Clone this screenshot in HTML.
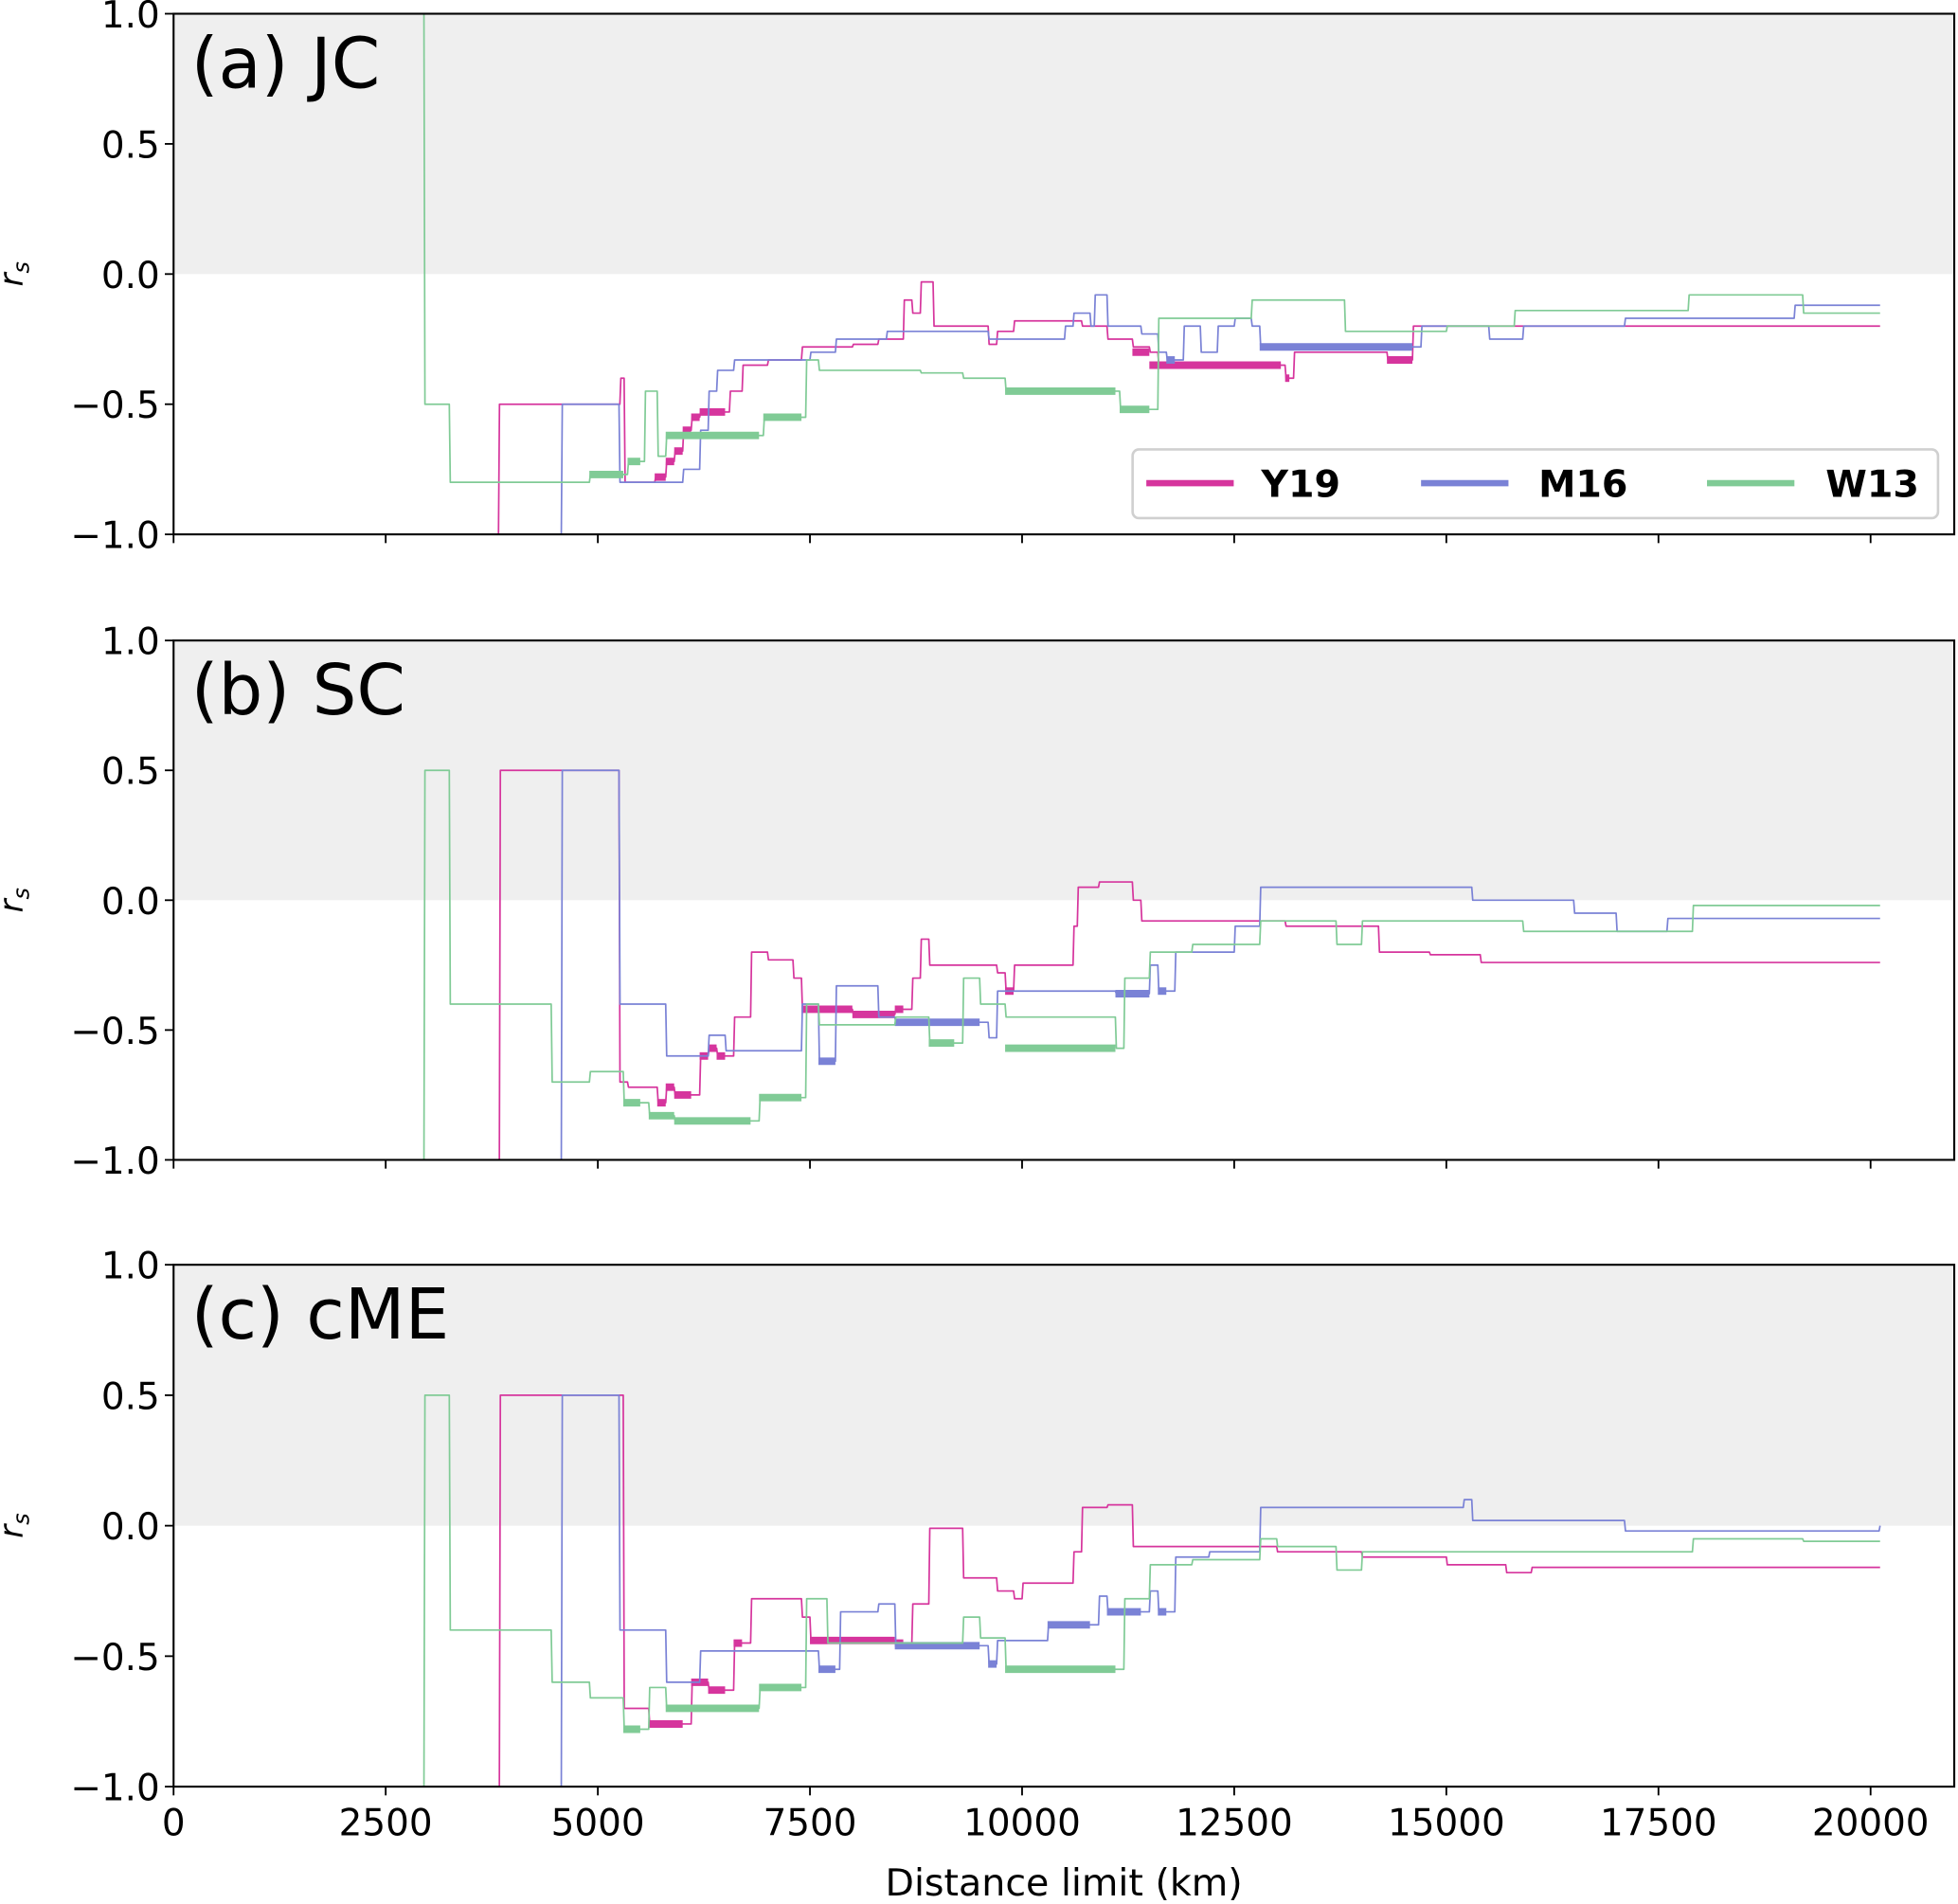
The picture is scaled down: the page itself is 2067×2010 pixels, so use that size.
<!DOCTYPE html>
<html><head><meta charset="utf-8"><style>
html,body{margin:0;padding:0;background:#fff}
svg{display:block}
text{font-family:"DejaVu Sans","Liberation Sans",sans-serif;fill:#000}
</style></head><body>
<svg id="chart" width="2067" height="2010" viewBox="0 0 1568 1525" preserveAspectRatio="none" xmlns="http://www.w3.org/2000/svg"></svg>
<script>
// ---- data (km, r_s) ----
const panelLabels = ["(a) JC","(b) SC","(c) cME"];
const xTicks = [0,2500,5000,7500,10000,12500,15000,17500,20000];
const yTicks = [-1.0,-0.5,0.0,0.5,1.0];
const yTickLabels = ["\u22121.0","\u22120.5","0.0","0.5","1.0"];
const seriesNames = ["Y19","M16","W13"];

const aY19x = [3810,3830,5200,5260,5310,5670,5800,5900,6000,6100,6200,6500,6550,6700,7000,7400,8000,8300,8600,8700,8800,8900,8950,9500,9600,9700,9900,10500,10700,11000,11300,11500,11600,13100,13200,14300,14600,20100];
const aY19y = [-1.0,-0.5,-0.5,-0.4,-0.8,-0.78,-0.72,-0.68,-0.6,-0.55,-0.53,-0.53,-0.45,-0.35,-0.33,-0.28,-0.27,-0.25,-0.1,-0.15,-0.03,-0.03,-0.2,-0.2,-0.27,-0.22,-0.18,-0.18,-0.2,-0.25,-0.28,-0.3,-0.35,-0.4,-0.3,-0.33,-0.2,-0.2];
const aM16x = [4550,4570,5200,5250,5950,6000,6200,6300,6400,6600,7300,7500,7800,8400,9500,9600,10500,10600,10800,10850,11000,11400,11600,11700,11900,12100,12300,12500,12700,12800,14600,14700,15500,15900,17100,19100,20100];
const aM16y = [-1.0,-0.5,-0.5,-0.8,-0.8,-0.75,-0.6,-0.45,-0.37,-0.33,-0.33,-0.3,-0.25,-0.22,-0.22,-0.25,-0.2,-0.15,-0.2,-0.08,-0.2,-0.23,-0.3,-0.33,-0.2,-0.3,-0.2,-0.17,-0.2,-0.28,-0.28,-0.2,-0.25,-0.2,-0.17,-0.12,-0.12];
const aW13x = [2900,2950,3200,3250,4900,5300,5350,5500,5550,5700,5800,6900,6950,7400,7450,7600,8700,8800,9300,9800,11100,11150,11500,11600,12700,13700,13800,15000,15800,17800,17850,18000,19100,19200,20100];
const aW13y = [1.0,-0.5,-0.5,-0.8,-0.77,-0.77,-0.72,-0.72,-0.45,-0.7,-0.62,-0.62,-0.55,-0.55,-0.33,-0.37,-0.37,-0.38,-0.4,-0.45,-0.45,-0.52,-0.52,-0.17,-0.1,-0.1,-0.22,-0.2,-0.14,-0.14,-0.08,-0.08,-0.08,-0.15,-0.15];
const aY19thick = [[5670,5800,-0.78],[5800,5900,-0.72],[5900,6000,-0.68],[6000,6100,-0.6],[6100,6200,-0.55],[6200,6500,-0.53],[11300,11500,-0.3],[11500,13050,-0.35],[13100,13150,-0.4],[14300,14600,-0.33]];
const aM16thick = [[11700,11800,-0.33],[12800,14600,-0.28]];
const aW13thick = [[4900,5300,-0.77],[5350,5500,-0.72],[5800,6900,-0.62],[6950,7400,-0.55],[9800,11100,-0.45],[11150,11500,-0.52]];

const bY19x = [3820,3840,5200,5250,5350,5600,5700,5800,5900,6100,6200,6300,6400,6500,6600,6800,7000,7200,7300,7400,8000,8500,8600,8700,8800,8900,9500,9700,9800,9900,10500,10600,10650,10900,11200,11300,11400,13000,13100,14100,14200,14800,15300,15400,20100];
const bY19y = [-1.0,0.5,0.5,-0.7,-0.72,-0.72,-0.78,-0.72,-0.75,-0.75,-0.6,-0.57,-0.6,-0.6,-0.45,-0.2,-0.23,-0.23,-0.3,-0.42,-0.44,-0.42,-0.42,-0.3,-0.15,-0.25,-0.25,-0.28,-0.35,-0.25,-0.25,-0.1,0.05,0.07,0.07,0.0,-0.08,-0.08,-0.1,-0.1,-0.2,-0.21,-0.21,-0.24,-0.24];
const bM16x = [4550,4570,5200,5250,5700,5800,6200,6300,6500,7300,7400,7600,7800,8200,8300,8500,9500,9600,9700,10500,11100,11500,11600,11700,11800,12000,12500,12800,15200,15300,16300,16500,17000,17500,17600,20100];
const bM16y = [-1.0,0.5,0.5,-0.4,-0.4,-0.6,-0.6,-0.52,-0.58,-0.58,-0.4,-0.62,-0.33,-0.33,-0.45,-0.47,-0.47,-0.53,-0.35,-0.35,-0.36,-0.25,-0.35,-0.35,-0.2,-0.2,-0.1,0.05,0.05,0.0,0.0,-0.05,-0.12,-0.12,-0.07,-0.07];
const bW13x = [2900,2950,3200,3250,4400,4450,4800,4900,5200,5300,5500,5600,5900,6800,6900,7400,7450,7600,8400,8500,8900,9200,9300,9500,9700,9800,11100,11200,11400,11500,12000,12800,13600,13700,14000,15800,15900,17800,17900,20100];
const bW13y = [-1.0,0.5,0.5,-0.4,-0.4,-0.7,-0.7,-0.66,-0.66,-0.78,-0.78,-0.83,-0.85,-0.85,-0.76,-0.76,-0.4,-0.48,-0.48,-0.45,-0.55,-0.55,-0.3,-0.4,-0.4,-0.45,-0.57,-0.3,-0.3,-0.2,-0.17,-0.08,-0.08,-0.17,-0.08,-0.08,-0.12,-0.12,-0.02,-0.02];
const bY19thick = [[5700,5800,-0.78],[5800,5900,-0.72],[5900,6100,-0.75],[6200,6300,-0.6],[6300,6400,-0.57],[6400,6500,-0.6],[7400,8000,-0.42],[8000,8500,-0.44],[8500,8600,-0.42],[9800,9900,-0.35]];
const bM16thick = [[7600,7800,-0.62],[8500,9500,-0.47],[11100,11500,-0.36],[11600,11700,-0.35]];
const bW13thick = [[5300,5500,-0.78],[5600,5900,-0.83],[5900,6800,-0.85],[6900,7400,-0.76],[8900,9200,-0.55],[9800,11100,-0.57]];

const cY19x = [3820,3840,5200,5300,5500,5600,6000,6100,6300,6500,6600,6700,6800,7300,7400,7500,8500,8600,8700,8900,9300,9700,9900,10000,10500,10600,10700,11000,11300,12800,13000,14000,15000,15700,16000,20100];
const cY19y = [-1.0,0.5,0.5,-0.7,-0.7,-0.76,-0.76,-0.6,-0.63,-0.63,-0.45,-0.45,-0.28,-0.28,-0.35,-0.44,-0.45,-0.45,-0.3,-0.01,-0.2,-0.25,-0.28,-0.22,-0.22,-0.1,0.07,0.08,-0.08,-0.08,-0.1,-0.12,-0.15,-0.18,-0.16,-0.16];
const cM16x = [4550,4570,5200,5250,5700,5800,6100,6200,7500,7600,7800,7850,8300,8500,9500,9600,9700,10300,10800,10900,11000,11400,11500,11600,11700,11800,12200,12800,14800,15200,15300,17000,17100,20100];
const cM16y = [-1.0,0.5,0.5,-0.4,-0.4,-0.6,-0.6,-0.48,-0.48,-0.55,-0.55,-0.33,-0.3,-0.46,-0.46,-0.53,-0.44,-0.38,-0.38,-0.27,-0.33,-0.33,-0.25,-0.33,-0.33,-0.12,-0.1,0.07,0.07,0.1,0.02,0.02,-0.02,0.0];
const cW13x = [2900,2950,3200,3250,4400,4450,4800,4900,5200,5300,5500,5600,5800,6900,7400,7450,7700,9200,9300,9500,9700,9800,11100,11200,11500,12000,12800,13000,13600,13700,14000,17800,17900,19200,20100];
const cW13y = [-1.0,0.5,0.5,-0.4,-0.4,-0.6,-0.6,-0.66,-0.66,-0.78,-0.78,-0.62,-0.7,-0.62,-0.62,-0.28,-0.45,-0.45,-0.35,-0.43,-0.43,-0.55,-0.55,-0.28,-0.15,-0.13,-0.05,-0.08,-0.08,-0.17,-0.1,-0.1,-0.05,-0.06,-0.06];
const cY19thick = [[5600,6000,-0.76],[6100,6300,-0.6],[6300,6500,-0.63],[6600,6700,-0.45],[7500,8500,-0.44],[8500,8600,-0.45]];
const cM16thick = [[7600,7800,-0.55],[8500,9500,-0.46],[9600,9700,-0.53],[10300,10800,-0.38],[11000,11400,-0.33],[11600,11700,-0.33]];
const cW13thick = [[5300,5500,-0.78],[5800,6900,-0.7],[6900,7400,-0.62],[9800,11100,-0.55]];

const panels = [
 {top:11,bot:428,lines:[[aY19x,aY19y,aY19thick],[aM16x,aM16y,aM16thick],[aW13x,aW13y,aW13thick]]},
 {top:513,bot:929,lines:[[bY19x,bY19y,bY19thick],[bM16x,bM16y,bM16thick],[bW13x,bW13y,bW13thick]]},
 {top:1013,bot:1431,lines:[[cY19x,cY19y,cY19thick],[cM16x,cM16y,cM16thick],[cW13x,cW13y,cW13thick]]}
];
const colors = ["#d6359d","#7a82d6","#80cb96"];

const NS="http://www.w3.org/2000/svg";
const svg=document.getElementById('chart');
const L=139,R=1565;
const xS=v=>L+v*(1498-L)/20000;
function mk(tag,attrs,parent){const e=document.createElementNS(NS,tag);for(const k in attrs)e.setAttribute(k,attrs[k]);(parent||svg).appendChild(e);return e;}

const defs=mk('defs',{});
panels.forEach((p,pi)=>{
  const yS=v=>p.bot-(v+1)/2*(p.bot-p.top);
  const g=mk('g',{});
  
  
  const cp=mk('clipPath',{id:'clip'+pi},defs);
  mk('rect',{x:L,y:p.top,width:R-L,height:p.bot-p.top},cp);
  const band=mk('rect',{x:L,y:p.top,width:R-L,height:yS(0)-p.top,fill:'#efefef'},g);
  
  
  const lg=mk('g',{'clip-path':'url(#clip'+pi+')'},g);
  p.lines.forEach((s,si)=>{
    const xs=s[0],ys=s[1];
    let d='M'+xS(xs[0]).toFixed(1)+' '+yS(ys[0]).toFixed(1);
    for(let i=1;i<xs.length;i++){d+=' L'+xS(xs[i]).toFixed(1)+' '+yS(ys[i-1]).toFixed(1)+' L'+(xS(xs[i])+0.8).toFixed(1)+' '+yS(ys[i]).toFixed(1);}
    const path=mk('path',{d:d,fill:'none',stroke:colors[si],'stroke-width':1.3,'stroke-linejoin':'round'},lg);
    
    
    s[2].forEach(t=>{
      const th=mk('line',{x1:xS(t[0]),x2:xS(t[1]),y1:yS(t[2]),y2:yS(t[2]),stroke:colors[si],'stroke-width':6},lg);
      
      
    });
  });
  const fr=mk('rect',{x:L,y:p.top,width:R-L,height:p.bot-p.top,fill:'none',stroke:'#000','stroke-width':1.6},g);
  
  
  yTicks.forEach((v,i)=>{
    mk('line',{x1:L-7,x2:L,y1:yS(v),y2:yS(v),stroke:'#000','stroke-width':1.4},g);
    const t=mk('text',{x:L-11,y:yS(v)+11,'text-anchor':'end','font-size':29.5},g);
    t.textContent=yTickLabels[i];
    
    
  });
  xTicks.forEach(v=>{
    mk('line',{x1:xS(v),x2:xS(v),y1:p.bot,y2:p.bot+7,stroke:'#000','stroke-width':1.4},g);
    if(pi===2){
      const t=mk('text',{x:xS(v),y:p.bot+39,'text-anchor':'middle','font-size':29.5},g);
      t.textContent=v;
      
      
    }
  });
  const yl=mk('text',{x:0,y:0,'font-size':26,'font-style':'italic',transform:'translate(18,'+yS(0)+') rotate(-90)','text-anchor':'middle'},g);
  yl.innerHTML='r<tspan font-size="18" dy="5">s</tspan>';
  
  
  const pl=mk('text',{x:153,y:p.top+59,'font-size':56},g);
  pl.textContent=panelLabels[pi];
  
  
});
// legend
const lgd=mk('g',{});


mk('rect',{x:907,y:360,width:645,height:55,rx:5,fill:'#fff',stroke:'#d0d0d0','stroke-width':2},lgd);
[[918,1010],[1138,1232],[1367,1462]].forEach((pos,i)=>{
  const ln=mk('line',{x1:pos[0],x2:pos[0]+70,y1:387,y2:387,stroke:colors[i],'stroke-width':5},lgd);
  
  
  const t=mk('text',{x:pos[1],y:398,'font-size':30,'font-weight':'bold'},lgd);
  t.textContent=seriesNames[i];
  
  
});
const xl=mk('text',{x:852,y:1518,'font-size':30,'text-anchor':'middle'});
xl.textContent='Distance limit (km)';


</script>
</body></html>
